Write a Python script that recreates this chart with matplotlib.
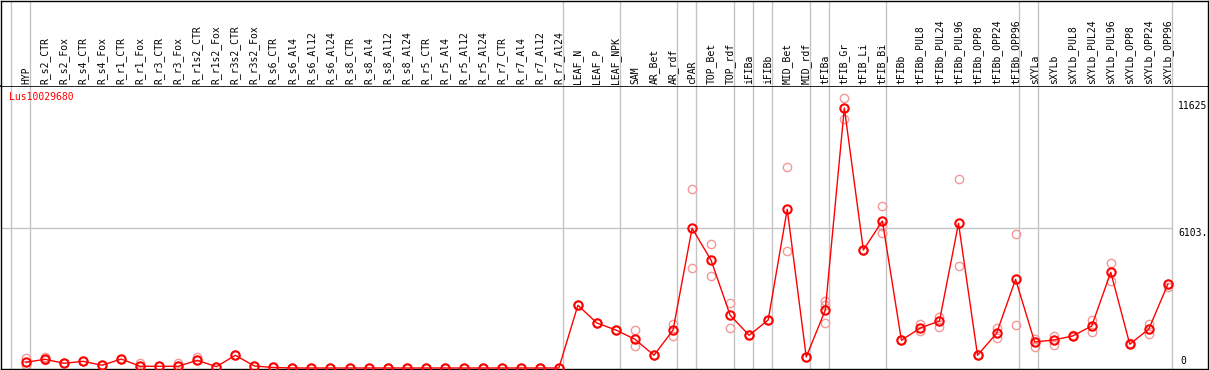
import numpy as np
import matplotlib.pyplot as plt

# etiquetas de las columnas (muestras)
muestras = [
    "HYP",
    "R_s2_CTR", "R_s2_Fox", "R_s4_CTR", "R_s4_Fox", "R_r1_CTR", "R_r1_Fox",
    "R_r3_CTR", "R_r3_Fox", "R_r1s2_CTR", "R_r1s2_Fox", "R_r3s2_CTR", "R_r3s2_Fox",
    "R_s6_CTR", "R_s6_Al4", "R_s6_Al12", "R_s6_Al24",
    "R_s8_CTR", "R_s8_Al4", "R_s8_Al12", "R_s8_Al24",
    "R_r5_CTR", "R_r5_Al4", "R_r5_Al12", "R_r5_Al24",
    "R_r7_CTR", "R_r7_Al4", "R_r7_Al12", "R_r7_Al24",
    "LEAF_N", "LEAF_P", "LEAF_NPK",
    "SAM", "AR_Bet", "AR_rdf", "cPAR", "TOP_Bet", "TOP_rdf",
    "iFIBa", "iFIBb", "MID_Bet", "MID_rdf",
    "tFIBa", "tFIB_Gr", "tFIB_Li", "tFIB_Bi",
    "tFIBb", "tFIBb_PUL8", "tFIBb_PUL24", "tFIBb_PUL96",
    "tFIBb_OPP8", "tFIBb_OPP24", "tFIBb_OPP96",
    "sXYLa", "sXYLb", "sXYLb_PUL8", "sXYLb_PUL24", "sXYLb_PUL96",
    "sXYLb_OPP8", "sXYLb_OPP24", "sXYLb_OPP96",
]

# media de expresion por muestra
media = [
    250, 380, 205, 290, 120, 390, 75, 75, 75, 335, 57, 555, 87, 22, 0,
    0, 0, 0, 0, 0, 0, 0, 0, 0, 0, 0, 0, 0, 0,
    2735, 1960, 1655,
    1250, 555, 1655, 6095, 4695, 2300,
    1425, 2095, 6920, 480,
    2530, 11335, 5145, 6410,
    1210, 1745, 2050, 6310, 555, 1515, 3865,
    1135, 1220, 1395, 1830, 4175, 1035, 1700, 3650,
]

# replicas (valores individuales)
replica_a = [
    420, 495, 205, 290, 120, 390, 220, 75, 230, 465, 57, 555, 87, 22, 0,
    0, 0, 0, 0, 0, 0, 0, 0, 0, 0, 0, 0, 0, 0,
    2735, 1960, 1655,
    1655, 555, 1920, 7790, 5395, 2835,
    1425, 2095, 8750, 480,
    2920, 11770, 5145, 7065,
    1210, 1905, 2235, 8225, 555, 1755, 5840,
    1275, 1395, 1425, 2095, 4580, 1075, 1930, 3545,
]
replica_b = [
    130, 350, 205, 290, 120, 390, 75, 75, 75, 335, 57, 555, 87, 22, 0,
    0, 0, 0, 0, 0, 0, 0, 0, 0, 0, 0, 0, 0, 0,
    2735, 1960, 1655,
    970, 555, 1395, 4345, 4010, 1730,
    1425, 2095, 5090, 480,
    1950, 10855, 5145, 5900,
    1210, 1625, 1800, 4445, 555, 1320, 1860,
    930, 1005, 1395, 1585, 3780, 1035, 1470, 3650,
]
replica_c = [
    np.nan, np.nan, np.nan, np.nan, np.nan, np.nan, np.nan, np.nan, np.nan, np.nan,
    np.nan, np.nan, np.nan, np.nan, np.nan, np.nan, np.nan, np.nan, np.nan, np.nan,
    np.nan, np.nan, np.nan, np.nan, np.nan, np.nan, np.nan, np.nan, np.nan, np.nan,
    np.nan, np.nan, np.nan, np.nan, np.nan, np.nan, np.nan, np.nan, np.nan, np.nan,
    np.nan, np.nan, 2745, np.nan, np.nan, 6190, np.nan, np.nan, np.nan, np.nan,
    np.nan, np.nan, np.nan, np.nan, np.nan, np.nan, np.nan, np.nan, np.nan, np.nan,
    np.nan,
]

# ultimo indice de cada grupo (lineas verticales de separacion)
fin_grupos = [-1, 0, 28, 31, 34, 35, 37, 38, 39, 41, 42, 45, 52, 53, 60]

gen = "Lus10029680"
marcas_y = [0, 6103, 11625]
etiquetas_y = ["0", "6103.", "11625"]

rojo = "#ff0000"
rojo_claro = "#f29a9a"
gris = "#c4c4c4"
fuente = "DejaVu Sans Mono"

x = np.arange(len(muestras))
xmin, xmax = -1.314, 62.11

fig = plt.figure(figsize=(12.09, 3.70), dpi=100)
ax = fig.add_axes([1 / 1209, 1 / 370, 1207 / 1209, 283 / 370])
cab = fig.add_axes([1 / 1209, 284 / 370, 1207 / 1209, 85 / 370])

# cabecera con los nombres rotados
cab.set_xlim(xmin, xmax)
cab.set_ylim(0, 85)
for i, m in enumerate(muestras):
    cab.text(i, 2.5, m, rotation=90, ha="center", va="bottom",
             fontsize=7, family=fuente, color="black")
for g in fin_grupos:
    cab.axvline(g + 0.2, color=gris, lw=1, zorder=0)
cab.set_xticks([])
cab.set_yticks([])
for s in cab.spines.values():
    s.set_color("black")
    s.set_linewidth(1)
cab.spines["bottom"].set_visible(False)

# zona del grafico
ax.set_xlim(xmin, xmax)
ax.set_ylim(-44, 12295)
for g in fin_grupos:
    ax.axvline(g + 0.2, color=gris, lw=1, zorder=0)
ax.hlines(marcas_y[1], xmin, fin_grupos[-1] + 0.2, color=gris, lw=1, zorder=0)

for rep in (replica_a, replica_b, replica_c):
    ax.plot(x, rep, ls="none", marker="o", ms=6, mfc="none",
            mec=rojo_claro, mew=1.0, zorder=2)
ax.plot(x, media, color=rojo, lw=1, marker="o", ms=6, mfc="none",
        mec=rojo, mew=1.5, zorder=3)

ax.text(60.55, marcas_y[2], etiquetas_y[2], va="top", ha="left",
        fontsize=7, family=fuente, color="black")
ax.text(60.55, marcas_y[1], etiquetas_y[1], va="top", ha="left",
        fontsize=7, family=fuente, color="black")
ax.text(60.65, marcas_y[0] + 100, etiquetas_y[0], va="bottom", ha="left",
        fontsize=7, family=fuente, color="black")

ax.text(8 / 1207, 1 - 6 / 283, gen, transform=ax.transAxes, va="top",
        ha="left", fontsize=7, family=fuente, color=rojo)

ax.set_xticks([])
ax.set_yticks([])
for s in ax.spines.values():
    s.set_color("black")
    s.set_linewidth(1)
ax.spines["top"].set_linewidth(1.2)

fig.savefig("out.png", dpi=100)
